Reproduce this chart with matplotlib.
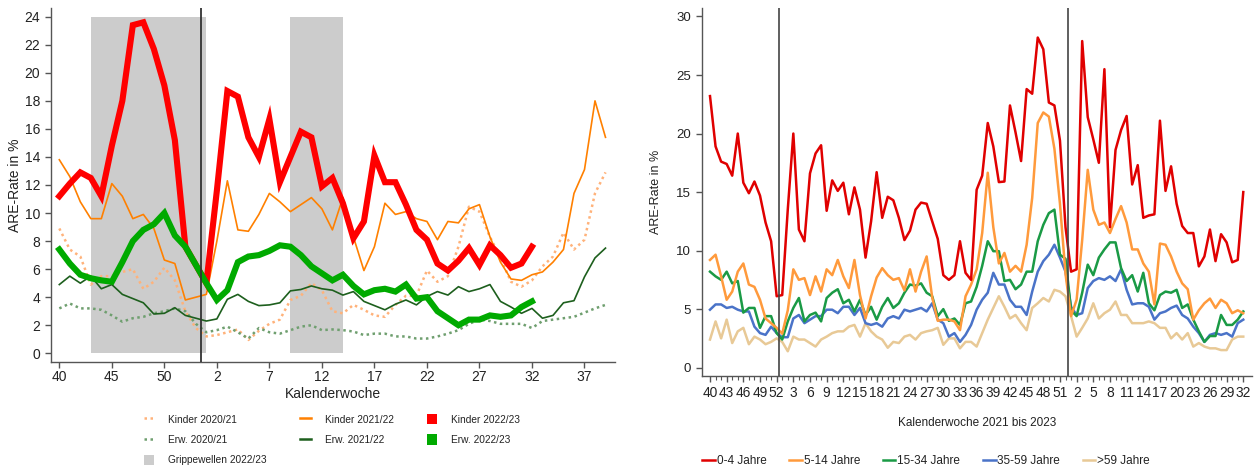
import matplotlib
matplotlib.use('Agg')
import matplotlib.pyplot as plt
import numpy as np
from matplotlib.lines import Line2D
from matplotlib.patches import Patch

plt.rcParams['font.family'] = ['Liberation Sans', 'DejaVu Sans']

# ---------------- left chart data ----------------
weeks_2020_21 = list(range(40, 54)) + list(range(1, 40))
weeks_2021_22 = list(range(40, 53)) + list(range(1, 40))
weeks_2022_23 = list(range(40, 53)) + list(range(1, 33))

kinder_2020_21 = [8.9, 7.4, 6.9, 4.9, 5.5, 5.5, 5.8, 6.0, 4.6, 5.1, 6.1, 5.2, 3.0,
                  1.8, 1.2, 1.3, 1.5, 1.7, 0.95, 1.6, 2.1, 2.4, 3.8, 4.1, 5.0, 4.5,
                  3.0, 2.85, 3.45, 3.1, 2.7, 2.6, 3.45, 4.1, 4.1, 5.9, 5.1, 5.5, 7.6,
                  10.45, 10.1, 8.3, 6.8, 5.1, 4.75, 5.2, 6.2, 6.9, 8.6, 7.4, 8.1, 11.4, 12.9]
erw_2020_21 = [3.2, 3.55, 3.2, 3.2, 3.1, 2.7, 2.25, 2.5, 2.6, 2.85, 3.0, 3.2, 3.0,
               2.1, 1.5, 1.65, 1.9, 1.5, 1.05, 1.8, 1.5, 1.4, 1.65, 1.9, 2.0, 1.65,
               1.7, 1.65, 1.55, 1.3, 1.4, 1.4, 1.2, 1.2, 1.05, 1.05, 1.2, 1.4, 1.65,
               2.1, 2.4, 2.3, 2.1, 2.1, 2.1, 1.8, 2.3, 2.4, 2.5, 2.6, 2.9, 3.2, 3.45]
kinder_2021_22 = [13.8, 12.6, 10.8, 9.6, 9.6, 12.1, 11.2, 9.6, 9.9, 8.9, 6.65, 6.4, 3.8,
                  4.2, 8.0, 12.3, 8.8, 8.7, 9.9, 11.4, 10.8, 10.1, 10.6, 11.1, 10.3,
                  8.8, 11.1, 8.3, 5.9, 7.6, 10.7, 9.9, 10.1, 9.6, 9.4, 8.1, 9.4, 9.3,
                  10.3, 10.6, 8.3, 6.5, 5.3, 5.2, 5.6, 5.8, 6.5, 7.4, 11.4, 13.1, 18.0, 15.4]
erw_2021_22 = [4.9, 5.5, 5.0, 5.5, 4.6, 4.9, 4.2, 3.9, 3.6, 2.8, 2.85, 3.25, 2.7,
               2.3, 2.45, 3.85, 4.2, 3.7, 3.4, 3.45, 3.6, 4.45, 4.55, 4.8, 4.6, 4.5,
               4.15, 4.4, 3.7, 3.4, 3.1, 3.5, 3.8, 3.45, 4.05, 4.4, 4.15, 4.75, 4.4,
               4.6, 4.9, 3.7, 3.3, 2.85, 3.2, 2.5, 2.7, 3.6, 3.75, 5.45, 6.8, 7.5]
kinder_2022_23 = [11.2, 12.1, 12.9, 12.5, 11.2, 14.8, 18.0, 23.4, 23.6, 21.7, 19.1, 15.2, 7.6,
                  5.0, 11.6, 18.7, 18.3, 15.4, 14.0, 16.7, 12.2, 14.0, 15.8, 15.4, 11.9,
                  12.5, 10.7, 8.2, 9.4, 14.1, 12.2, 12.2, 10.6, 8.8, 8.1, 6.4, 5.9, 6.6,
                  7.5, 6.3, 7.7, 7.0, 6.1, 6.4, 7.6]
erw_2022_23 = [7.4, 6.4, 5.6, 5.35, 5.2, 5.1, 6.5, 8.0, 8.8, 9.2, 10.0, 8.4, 7.6,
               5.0, 3.8, 4.5, 6.5, 6.9, 7.0, 7.3, 7.7, 7.6, 7.0, 6.2, 5.7, 5.2, 5.6,
               4.8, 4.2, 4.5, 4.6, 4.4, 4.9, 3.9, 4.0, 3.0, 2.5, 2.0, 2.4, 2.4, 2.7,
               2.6, 2.7, 3.3, 3.7]
grippewellen = [(43, 1), (9, 14)]
left_tick_weeks = [40, 45, 50, 2, 7, 12, 17, 22, 27, 32, 37]

# ---------------- right chart data ----------------
weeks_right = list(range(40, 53)) + list(range(1, 53)) + list(range(1, 33))
age_labels = ['0-4 Jahre', '5-14 Jahre', '15-34 Jahre', '35-59 Jahre', '>59 Jahre']
are_0_4 = [23.2, 18.9, 17.6, 17.4, 16.4, 20.0, 15.8, 14.9, 15.9, 14.7,
           12.4, 10.8, 6.1, 6.2, 13.5, 20.0, 11.8, 10.8, 16.6, 18.3,
           19.0, 13.4, 16.0, 15.1, 15.8, 13.1, 15.4, 13.5, 9.4, 12.5,
           16.7, 12.8, 14.6, 14.3, 12.8, 10.9, 11.7, 13.5, 14.1, 14.0,
           12.5, 11.0, 7.9, 7.5, 7.9, 10.8, 8.1, 7.5, 15.2, 16.4,
           20.9, 18.9, 15.85, 15.9, 22.4, 20.1, 17.65, 23.8, 23.4, 28.2,
           27.2, 22.65, 22.4, 19.4, 12.0, 8.2, 8.4, 27.9, 21.4, 19.5,
           17.5, 25.5, 12.0, 18.6, 20.3, 21.5, 15.65, 17.3, 12.8, 13.0,
           13.1, 21.1, 15.1, 17.2, 14.0, 12.1, 11.5, 11.5, 8.65, 9.5,
           11.8, 9.1, 11.4, 10.7, 9.0, 9.2, 15.0]
are_5_14 = [9.2, 9.65, 7.8, 5.8, 6.5, 8.2, 8.9, 7.1, 6.9, 5.8,
            4.2, 3.8, 3.4, 2.9, 4.9, 8.4, 7.5, 7.65, 6.2, 7.8,
            6.5, 8.4, 7.9, 9.2, 7.8, 6.8, 9.2, 6.2, 4.2, 6.1,
            7.7, 8.5, 7.9, 7.5, 7.65, 6.6, 8.4, 6.5, 8.2, 9.5,
            6.0, 4.0, 4.1, 4.1, 3.95, 3.2, 6.1, 7.1, 8.4, 11.5,
            16.65, 12.0, 8.9, 9.8, 8.2, 8.7, 8.2, 10.5, 14.5, 20.9,
            21.8, 21.45, 18.7, 14.0, 8.0, 4.4, 5.8, 10.9, 16.9, 13.5,
            12.2, 12.4, 11.5, 12.7, 13.8, 12.4, 10.1, 10.1, 8.9, 8.2,
            5.4, 10.6, 10.5, 9.5, 8.2, 7.2, 6.7, 4.1, 4.9, 5.5,
            5.9, 5.1, 5.8, 5.5, 4.65, 4.9, 4.65]
are_15_34 = [8.2, 7.8, 7.5, 8.2, 7.2, 7.4, 4.7, 5.1, 5.1, 3.4,
             4.4, 4.4, 2.95, 2.4, 3.95, 5.1, 5.95, 3.95, 4.5, 4.7,
             3.95, 5.95, 6.4, 6.7, 5.5, 5.8, 4.8, 5.8, 4.5, 5.2,
             4.1, 5.2, 5.95, 5.1, 5.5, 6.4, 7.1, 7.0, 7.2, 6.4,
             6.1, 4.4, 5.0, 4.0, 4.2, 3.65, 5.5, 5.65, 6.9, 8.7,
             10.8, 9.95, 9.95, 7.4, 7.5, 6.7, 7.1, 8.2, 8.2, 10.8,
             12.2, 13.2, 13.5, 9.65, 9.3, 4.9, 4.4, 6.4, 8.8, 7.9,
             9.4, 10.1, 10.7, 10.7, 8.5, 7.4, 7.9, 6.5, 8.1, 5.5,
             4.9, 6.2, 6.5, 6.4, 6.65, 5.1, 5.4, 4.1, 3.1, 2.2,
             2.7, 2.7, 4.5, 3.65, 3.65, 4.1, 4.8]
are_35_59 = [4.95, 5.4, 5.4, 5.1, 5.2, 4.95, 4.8, 4.8, 3.5, 2.95,
             2.8, 3.5, 2.95, 2.6, 2.6, 4.2, 4.5, 3.8, 4.1, 4.4,
             4.4, 4.95, 4.95, 4.65, 5.2, 5.2, 4.5, 5.1, 3.8, 3.65,
             3.8, 3.5, 4.2, 4.4, 4.2, 4.95, 4.8, 4.95, 5.1, 4.8,
             5.5, 4.1, 3.8, 2.65, 2.95, 2.2, 2.8, 3.65, 4.95, 5.8,
             6.4, 8.1, 7.1, 7.1, 5.8, 5.2, 5.2, 4.5, 6.5, 8.2,
             9.1, 9.65, 10.5, 9.4, 8.2, 5.2, 4.5, 4.65, 6.8, 7.4,
             7.65, 7.5, 7.8, 7.4, 8.4, 6.65, 5.4, 5.5, 5.5, 5.2,
             4.1, 4.65, 4.8, 5.1, 5.3, 4.5, 4.2, 3.5, 2.95, 2.2,
             2.8, 2.95, 2.8, 2.95, 2.65, 3.8, 4.1]
are_60plus = [2.4, 3.95, 2.5, 4.1, 2.1, 3.1, 3.4, 2.0, 2.65, 2.4,
              2.0, 2.2, 2.5, 2.2, 1.4, 2.65, 2.4, 2.4, 2.1, 1.8,
              2.4, 2.65, 2.95, 3.1, 3.1, 3.5, 3.65, 2.65, 3.8, 3.1,
              2.65, 2.4, 1.7, 2.2, 2.1, 2.65, 2.8, 2.4, 2.95, 3.1,
              3.2, 3.4, 1.95, 2.5, 2.5, 1.65, 2.2, 2.2, 1.8, 2.95,
              4.1, 5.1, 6.1, 5.2, 4.2, 4.5, 3.8, 3.2, 5.1, 5.5,
              5.95, 5.65, 6.65, 6.5, 6.1, 4.4, 2.65, 3.4, 4.2, 5.5,
              4.2, 4.65, 4.95, 5.65, 4.5, 4.5, 3.8, 3.8, 3.8, 3.95,
              3.8, 3.4, 3.4, 2.5, 2.95, 2.4, 2.95, 1.8, 2.1, 1.8,
              1.65, 1.65, 1.5, 1.5, 2.4, 2.65, 2.65]


def season_pos(w):
    # position on the season axis (week 40 .. week 53, then 1 .. 39)
    return w - 40 if w >= 40 else w + 13


fig = plt.figure(figsize=(12.55, 4.69), dpi=100)

# ================= LEFT =================
axL = fig.add_axes([0.0404, 0.2288, 0.4496, 0.7535])
spine_col = '#555555'

for (w0, w1) in grippewellen:
    axL.fill_between([season_pos(w0), season_pos(w1)], 0, 24, color='#cccccc',
                     linewidth=0, zorder=0)

xs20 = [season_pos(w) for w in weeks_2020_21]
xs21 = [season_pos(w) for w in weeks_2021_22]
xs22 = [season_pos(w) for w in weeks_2022_23]

dot = (0, (1.0, 1.4))
axL.plot(xs20, kinder_2020_21, color='#ffb27a', lw=1.8, ls=dot, zorder=2)
axL.plot(xs20, erw_2020_21, color='#6f9f6f', lw=1.8, ls=dot, zorder=2)
axL.plot(xs21, kinder_2021_22, color='#ff8000', lw=1.2, zorder=3)
axL.plot(xs21, erw_2021_22, color='#1d5f1d', lw=1.2, zorder=3)
axL.plot(xs22, kinder_2022_23, color='#ff0000', lw=4.4, zorder=4,
         solid_joinstyle='miter')
axL.plot(xs22, erw_2022_23, color='#00aa00', lw=4.4, zorder=4,
         solid_joinstyle='miter')

axL.axvline(13.5, color='#333333', lw=1.3, zorder=5)

axL.set_xlim(-0.82, 52.9)
axL.set_ylim(-0.6, 24.6)
axL.set_yticks(np.arange(0, 25, 2))
axL.set_xticks([season_pos(w) for w in left_tick_weeks])
axL.set_xticklabels([str(w) for w in left_tick_weeks])
for s in ['top', 'right']:
    axL.spines[s].set_visible(False)
for s in ['left', 'bottom']:
    axL.spines[s].set_color(spine_col)
    axL.spines[s].set_linewidth(1.0)
axL.tick_params(axis='both', colors=spine_col, labelcolor='#222222',
                labelsize=10, length=4, width=1.0)
axL.tick_params(axis='x', pad=2)
axL.set_ylabel('ARE-Rate in %', fontsize=10, color='#222222', labelpad=2)
axL.set_xlabel('Kalenderwoche', fontsize=10, color='#222222', labelpad=2)

hL = [Line2D([], [], color='#ffb27a', lw=1.8, ls=dot),
      Line2D([], [], color='#6f9f6f', lw=1.8, ls=dot),
      Patch(facecolor='#cccccc', edgecolor='none'),
      Line2D([], [], color='#ff8000', lw=1.8),
      Line2D([], [], color='#1d5f1d', lw=1.8),
      Patch(facecolor='#ff0000', edgecolor='none'),
      Patch(facecolor='#00aa00', edgecolor='none')]
lL = ['Kinder 2020/21', 'Erw. 2020/21', 'Grippewellen 2022/23',
      'Kinder 2021/22', 'Erw. 2021/22', 'Kinder 2022/23', 'Erw. 2022/23']
legL = fig.legend(hL, lL, ncol=3, loc='upper left',
                  bbox_to_anchor=(144 / 1255, 1 - 414 / 469), frameon=False,
                  fontsize=7.3, handlelength=1.0, handleheight=1.2,
                  handletextpad=1.4, columnspacing=3.3, labelspacing=0.95,
                  borderaxespad=0, borderpad=0)
for t in legL.get_texts():
    t.set_color('#222222')

# ================= RIGHT =================
axR = fig.add_axes([0.5591, 0.1989, 0.4382, 0.7834])
xr = np.arange(len(weeks_right))
colors_r = ['#e00000', '#ff9a3c', '#1a9a45', '#4a73c8', '#e8c996']
series_r = [are_0_4, are_5_14, are_15_34, are_35_59, are_60plus]
for vals, c in zip(series_r[::-1], colors_r[::-1]):
    axR.plot(xr, vals, color=c, lw=1.8, zorder=3)

axR.axvline(12.5, color='#444444', lw=1.2, zorder=5)
axR.axvline(64.5, color='#444444', lw=1.2, zorder=5)

axR.set_xlim(-1.5, 97.5)
axR.set_ylim(-0.69, 30.7)
axR.set_yticks(np.arange(0, 31, 5))
axR.set_xticks(xr[::3])
axR.set_xticklabels([str(w) for w in weeks_right[::3]])
axR.set_xticks(xr, minor=True)
for s in ['top', 'right']:
    axR.spines[s].set_visible(False)
for s in ['left', 'bottom']:
    axR.spines[s].set_color(spine_col)
    axR.spines[s].set_linewidth(1.0)
axR.tick_params(axis='both', which='major', colors=spine_col, labelcolor='#222222',
                labelsize=9.5, length=4, width=1.0)
axR.tick_params(axis='x', which='major', labelsize=9.9)
axR.tick_params(axis='x', which='minor', colors=spine_col, length=3, width=0.8)
axR.set_ylabel('ARE-Rate in %', fontsize=9, color='#222222', labelpad=10)
axR.set_xlabel('Kalenderwoche 2021 bis 2023', fontsize=8.5, color='#222222',
               labelpad=12)

hR = [Line2D([], [], color=c, lw=1.8) for c in colors_r]
legR = fig.legend(hR, age_labels, ncol=5, loc='center left',
                  bbox_to_anchor=(702 / 1255, 1 - 461 / 469), frameon=False,
                  fontsize=8.5, handlelength=1.1, handletextpad=0.15,
                  columnspacing=1.9, borderaxespad=0, borderpad=0)
for t in legR.get_texts():
    t.set_color('#222222')

fig.savefig('out.png', dpi=100)
